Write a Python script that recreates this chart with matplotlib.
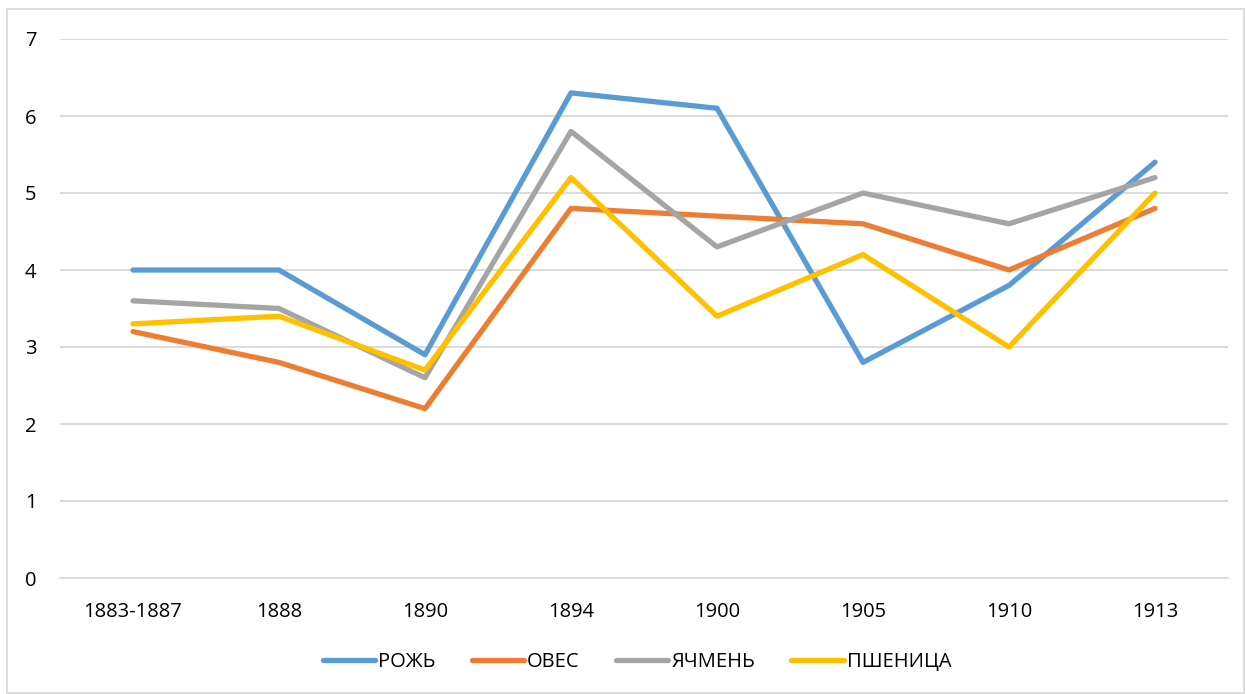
import matplotlib
matplotlib.use("Agg")
import matplotlib.pyplot as plt
from matplotlib.patches import Rectangle

# data
years = ["1883-1887", "1888", "1890", "1894", "1900", "1905", "1910", "1913"]
rye = [4.0, 4.0, 2.9, 6.3, 6.1, 2.8, 3.8, 5.4]
oats = [3.2, 2.8, 2.2, 4.8, 4.7, 4.6, 4.0, 4.8]
barley = [3.6, 3.5, 2.6, 5.8, 4.3, 5.0, 4.6, 5.2]
wheat = [3.3, 3.4, 2.7, 5.2, 3.4, 4.2, 3.0, 5.0]

series = [
    ("РОЖЬ", rye, "#5b9bd5"),
    ("ОВЕС", oats, "#ed7d31"),
    ("ЯЧМЕНЬ", barley, "#a5a5a5"),
    ("ПШЕНИЦА", wheat, "#ffc000"),
]

plt.rcParams["font.family"] = ["Open Sans", "DejaVu Sans"]

W, H = 1245, 694
fig = plt.figure(figsize=(W / 100, H / 100), dpi=100)
ax = fig.add_axes([60 / W, 1 - 578 / H, (1228 - 60) / W, (578 - 39) / H])

x = list(range(len(years)))
for name, vals, color in series:
    ax.plot(x, vals, color=color, lw=3.8, label=name,
            solid_capstyle="round", solid_joinstyle="round", zorder=3)

ax.set_xlim(-0.5, len(years) - 0.5)
ax.set_ylim(0, 7)
ax.set_yticks(range(0, 8))
ax.set_xticks(x)
ax.set_xticklabels(years)
ax.tick_params(axis="both", length=0, labelsize=14.5, colors="#000000")
ax.tick_params(axis="x", pad=17)
ax.tick_params(axis="y", pad=17)
ax.grid(axis="y", color="#d9d9d9", lw=1.3)
ax.set_axisbelow(True)
for s in ax.spines.values():
    s.set_visible(False)
ax.spines["bottom"].set_visible(True)
ax.spines["bottom"].set_color("#d9d9d9")
ax.spines["bottom"].set_linewidth(1.3)

leg = fig.legend(loc="center", bbox_to_anchor=(637 / W, 1 - 662 / H), ncol=4,
                 frameon=False, fontsize=14.5, handlelength=2.6,
                 handletextpad=0.15, columnspacing=1.8)
for h in leg.get_lines():
    h.set_linewidth(3.8)
    h.set_solid_capstyle("round")

fig.patches.append(Rectangle((7 / W, 1 / H), 1 - 8 / W, 1 - 10 / H,
                             transform=fig.transFigure, fill=False,
                             edgecolor="#d9d9d9", lw=1.3))

fig.savefig("out.png", dpi=100)
